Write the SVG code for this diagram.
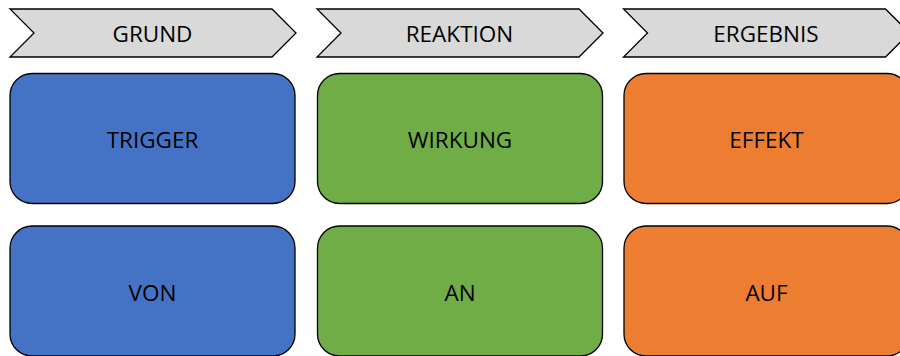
<svg xmlns="http://www.w3.org/2000/svg" width="900" height="356" viewBox="0 0 900 356">
  <style>
    .chev { fill: #D9D9D9; stroke: #000; stroke-width: 1.3; stroke-linejoin: miter; }
    .box { stroke: #000; stroke-width: 1.3; }
    .blue { fill: #4472C4; }
    .green { fill: #70AD47; }
    .orange { fill: #ED7D31; }
    text { font-family: "Open Sans", "Noto Sans", "Liberation Sans", sans-serif; font-size: 22.5px; fill: #000; text-anchor: middle; }
  </style>
  <defs>
    <polygon id="chevron" points="0,0 262,0 286,24 262,48 0,48 24,24"/>
    <rect id="card" x="0" y="0" width="285" height="130" rx="22" ry="22"/>
  </defs>

  <!-- column headers -->
  <g id="header-grund">
    <use href="#chevron" class="chev" x="10" y="9"/>
    <text x="152.5" y="41.5">GRUND</text>
  </g>
  <g id="header-reaktion">
    <use href="#chevron" class="chev" x="317" y="9"/>
    <text x="459.5" y="41.5">REAKTION</text>
  </g>
  <g id="header-ergebnis">
    <use href="#chevron" class="chev" x="623.5" y="9"/>
    <text x="766" y="41.5">ERGEBNIS</text>
  </g>

  <!-- first row -->
  <g id="trigger">
    <use href="#card" class="box blue" x="10" y="73.5"/>
    <text x="152.5" y="148">TRIGGER</text>
  </g>
  <g id="wirkung">
    <use href="#card" class="box green" x="317.5" y="73.5"/>
    <text x="460" y="148">WIRKUNG</text>
  </g>
  <g id="effekt">
    <use href="#card" class="box orange" x="624" y="73.5"/>
    <text x="766.5" y="148">EFFEKT</text>
  </g>

  <!-- second row -->
  <g id="von">
    <use href="#card" class="box blue" x="10" y="226"/>
    <text x="152.5" y="300.5">VON</text>
  </g>
  <g id="an">
    <use href="#card" class="box green" x="317.5" y="226"/>
    <text x="460" y="300.5">AN</text>
  </g>
  <g id="auf">
    <use href="#card" class="box orange" x="624" y="226"/>
    <text x="766.5" y="300.5">AUF</text>
  </g>

  <g id="connectors"/>
</svg>
